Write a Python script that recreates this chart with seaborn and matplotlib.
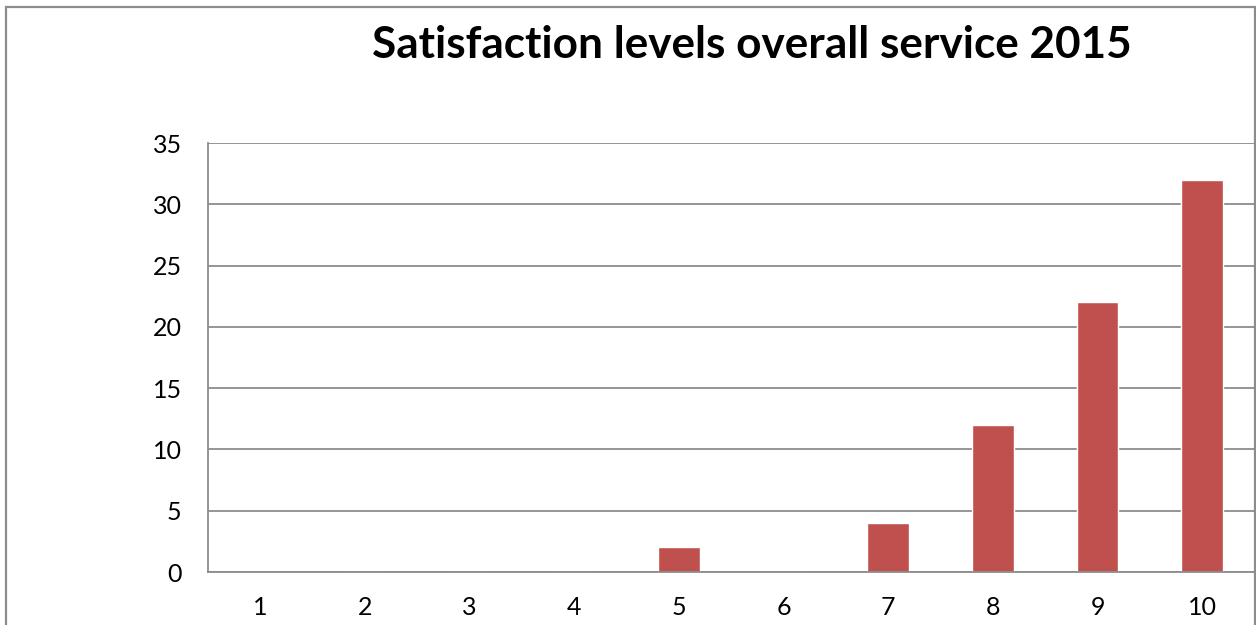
import matplotlib
matplotlib.use("Agg")
import matplotlib.pyplot as plt
from matplotlib.patches import Rectangle
import seaborn as sns
import pandas as pd

# Satisfaction scores (1-10) and number of responses per score
scores = ["1", "2", "3", "4", "5", "6", "7", "8", "9", "10"]
responses = [0, 0, 0, 0, 2, 0, 4, 12, 22, 32]
y_ticks = [0, 5, 10, 15, 20, 25, 30, 35]
title = "Satisfaction levels overall service 2015"

BAR_COLOR = "#C0504D"
LINE_COLOR = "#8C8C8C"

sns.set_theme(style="white")
plt.rcParams["font.family"] = ["Lato", "DejaVu Sans"]

W, H = 1256, 625
fig = plt.figure(figsize=(W / 100, H / 100), dpi=100)

# outer chart frame (bottom edge runs past the canvas)
fig.patches.append(Rectangle((6 / W, -0.05), (1254.5 - 6) / W, 1.05 - 7 / H,
                             transform=fig.transFigure, fill=False,
                             edgecolor=LINE_COLOR, linewidth=1.6, zorder=0))

left, right, top, bottom = 208, 1254.5, 143, 572
ax = fig.add_axes([left / W, 1 - bottom / H, (right - left) / W, (bottom - top) / H])

df = pd.DataFrame({"score": scores, "responses": responses})
sns.barplot(data=df, x="score", y="responses", order=scores, color=BAR_COLOR,
            saturation=1, width=0.4, ax=ax, errorbar=None)

ax.set_ylim(0, 35)
ax.set_yticks(y_ticks)
ax.set_xlim(-0.5, len(scores) - 0.5)
ax.yaxis.grid(True, color=LINE_COLOR, linewidth=1.3)
ax.set_axisbelow(True)
for side in ["top", "right"]:
    ax.spines[side].set_visible(False)
for side in ["left", "bottom"]:
    ax.spines[side].set_color(LINE_COLOR)
    ax.spines[side].set_linewidth(1.3)
ax.set_xlabel("")
ax.set_ylabel("")
ax.tick_params(axis="y", length=0, pad=19, labelsize=18, colors="black")
ax.tick_params(axis="x", length=0, pad=17, labelsize=18, colors="black")

fig.text(752 / W, 1 - 45 / H, title, ha="center", va="center",
         fontsize=31.8, fontweight="bold", color="black")

fig.savefig("out.png", dpi=100)
